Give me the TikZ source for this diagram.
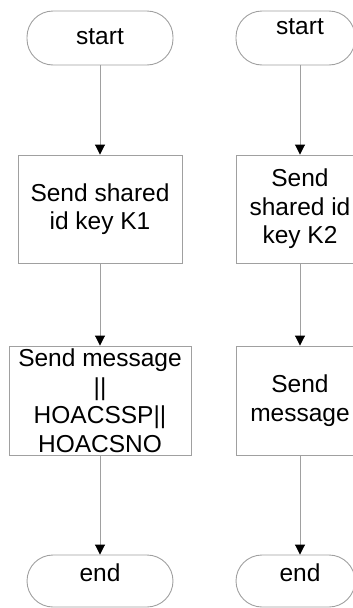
\documentclass[tikz,border=0pt]{standalone}
\usepackage{fontspec}
\setmainfont{Liberation Sans}
\usetikzlibrary{arrows.meta}
\definecolor{edgegray}{RGB}{160,160,160}
\tikzset{
  box/.style={draw=edgegray, line width=0.9pt, rectangle, inner sep=0pt, align=center,
    font=\fontsize{24.5}{28.5}\selectfont},
  term/.style={box, rounded corners=26pt},
  txt/.style={inner sep=0pt, align=center, font=\fontsize{24.5}{28.5}\selectfont},
  flow/.style={draw=edgegray, line width=0.9pt, -{Triangle[color=black,width=10pt,length=10pt]}}
}
\begin{document}
\begin{tikzpicture}[x=1pt,y=-1pt]
\useasboundingbox (0,0) rectangle (353,608);
\clip (0,0) rectangle (353,608);
% left column
\node[term, minimum width=146pt, minimum height=54pt] (s1) at (100,38) {};
\node[txt] (s1t) at (100,37) {start};
\node[box, minimum width=164pt, minimum height=108pt] (b1) at (100,209) {Send shared\\id key K1};
\node[box, minimum width=182pt, minimum height=109pt] (m1) at (100,400.5) {Send message\\||\\HOACSSP||\\HOACSNO};
\node[term, minimum width=146pt, minimum height=52pt] (e1) at (100,581) {};
\node[txt] (e1t) at (100,573) {end};
% right column
\node[term, minimum width=119pt, minimum height=54pt] (s2) at (295.5,38) {};
\node[txt] (s2t) at (300,27) {start};
\node[box, minimum width=128pt, minimum height=108pt] (b2) at (300,209) {Send\\shared id\\key K2};
\node[box, minimum width=128pt, minimum height=109pt] (m2) at (300,400.5) {Send\\message};
\node[term, minimum width=119pt, minimum height=52pt] (e2) at (295.5,581) {};
\node[txt] (e2t) at (300,573) {end};
% connectors
\draw[flow] (s1.south) -- (b1.north);
\draw[flow] (b1.south) -- (m1.north);
\draw[flow] (m1.south) -- (e1.north);
\draw[flow] (s2.south -| b2.north) -- (b2.north);
\draw[flow] (b2.south) -- (m2.north);
\draw[flow] (m2.south) -- (m2.south |- e2.north);
\end{tikzpicture}
\end{document}
